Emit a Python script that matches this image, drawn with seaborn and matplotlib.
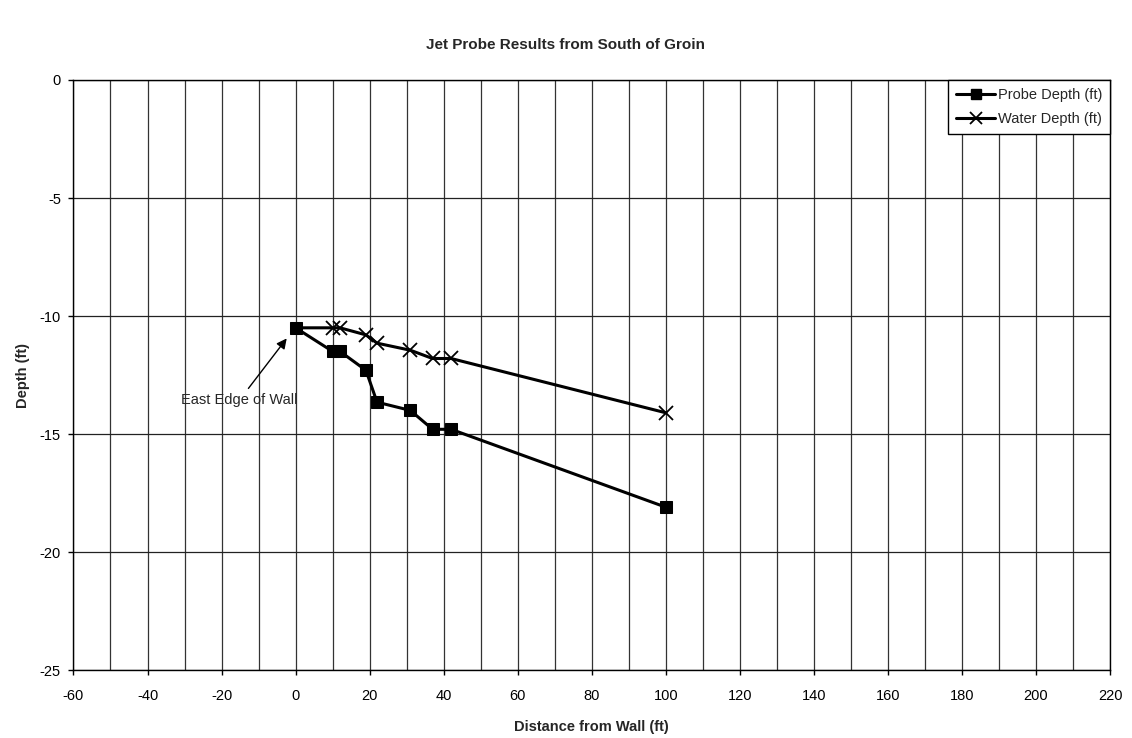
import matplotlib
matplotlib.use("Agg")
import matplotlib.pyplot as plt
from matplotlib.lines import Line2D
import seaborn as sns
import pandas as pd
import numpy as np
from matplotlib.ticker import MultipleLocator

probe_x = [0, 10, 12, 19, 22, 31, 37, 42, 100]
probe_depth = [-10.5, -11.5, -11.5, -12.3, -13.65, -14.0, -14.8, -14.8, -18.1]
water_x = [0, 10, 12, 19, 22, 31, 37, 42, 100]
water_depth = [-10.5, -10.5, -10.5, -10.8, -11.15, -11.45, -11.8, -11.8, -14.1]

sns.set_theme(style="white")
plt.rcParams['font.family'] = ['Liberation Sans', 'DejaVu Sans']
plt.rcParams['axes.unicode_minus'] = False

fig = plt.figure(figsize=(11.32, 7.38), dpi=100)
ax = fig.add_axes([0.0649, 0.0921, 0.9157, 0.7995])

dw = pd.DataFrame({"x": water_x, "y": water_depth})
dp = pd.DataFrame({"x": probe_x, "y": probe_depth})

sns.lineplot(data=dw, x="x", y="y", ax=ax, color="black", lw=2.2, marker="x",
             markersize=10, markeredgewidth=1.3, markeredgecolor="black",
             markevery=list(range(1, len(water_x))),
             sort=False, zorder=3, legend=False)
sns.lineplot(data=dp, x="x", y="y", ax=ax, color="black", lw=2.2, marker="s",
             markersize=9, markeredgecolor="black", markerfacecolor="black",
             sort=False, zorder=4, legend=False)

ax.set_xlim(-60, 220)
ax.set_ylim(-25, 0)
ax.xaxis.set_major_locator(MultipleLocator(20))
ax.xaxis.set_minor_locator(MultipleLocator(10))
ax.yaxis.set_major_locator(MultipleLocator(5))
ax.grid(True, which="both", axis="x", color="#333333", lw=0.9)
ax.grid(True, which="major", axis="y", color="#222222", lw=0.9)
ax.set_axisbelow(True)
for s in ax.spines.values():
    s.set_color("black")
    s.set_linewidth(1.0)
ax.tick_params(axis="both", which="major", direction="out", length=3.5, width=1,
               color="black", labelsize=10.5, labelcolor="black",
               bottom=True, left=True)
ax.tick_params(axis="y", pad=5.5)
ax.tick_params(axis="x", pad=10.5)
ax.tick_params(axis="x", which="minor", bottom=False)

ax.set_xlabel("Distance from Wall (ft)", fontsize=10.5, fontweight="bold", labelpad=12)
ax.set_ylabel("Depth (ft)", fontsize=10.5, fontweight="bold", labelpad=7)

fig.suptitle("Jet Probe Results from South of Groin", x=0.5, y=1 - 45 / 738,
             fontsize=11, fontweight="bold", va="center")

ax.annotate("East Edge of Wall", xy=(-2.4, -10.95), xytext=(-15.1, -13.55),
            ha="center", va="center", fontsize=10.5,
            arrowprops=dict(arrowstyle="-|>", color="black", lw=1.0,
                            shrinkA=1, shrinkB=0, mutation_scale=15))

handles = [
    Line2D([], [], color="black", lw=2.2, marker="s", markersize=7.5,
           markerfacecolor="black", markeredgecolor="black"),
    Line2D([], [], color="black", lw=2.2, marker="x", markersize=9,
           markeredgewidth=1.3, markeredgecolor="black"),
]
leg = ax.legend(handles, ["Probe Depth (ft)", "Water Depth (ft)"],
                loc="upper right", frameon=True, fancybox=False, edgecolor="black",
                fontsize=10.5, borderaxespad=0.0, handlelength=2.7,
                handletextpad=0.15, borderpad=0.55, labelspacing=0.7)
leg.get_frame().set_linewidth(1.0)
leg.get_frame().set_alpha(1)

fig.savefig("out.png", dpi=100, facecolor="white")
